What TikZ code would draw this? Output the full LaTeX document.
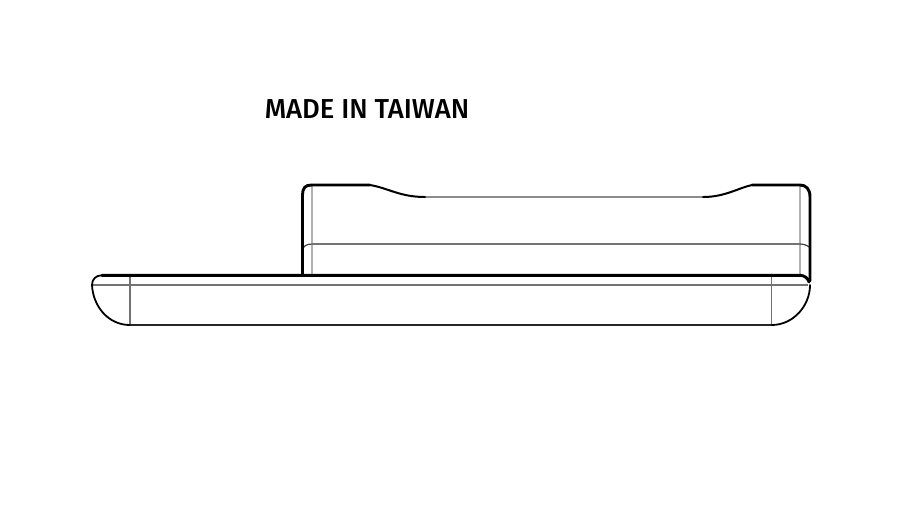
\documentclass[tikz,border=0pt]{standalone}
\usepackage{fontspec}
\setmainfont{Fira Sans Medium}
\tikzset{
  outline/.style={draw=black, line width=0.058cm, line cap=round, line join=round},
  edgeline/.style={draw=black!75, line width=0.024cm},
  hidden/.style={draw=black!55, line width=0.028cm},
  faint/.style={draw=black!30, line width=0.04cm},
}
\begin{document}
\begin{tikzpicture}[x=0.02cm, y=-0.02cm]
    \useasboundingbox (0, 0) rectangle (911, 512);
    \node[inner sep=0pt, font=\fontsize{15.6pt}{18pt}\selectfont] (label) at (367, 108.7) {MADE IN TAIWAN};

    % upper block
    \draw[faint] (311.7, 186) -- (311.7, 275);
    \draw[faint] (800, 186) -- (800, 275);
    \draw[hidden] (311.7, 244) -- (800, 244);
    \draw[edgeline] (302.5, 250) .. controls (303, 246) and (307, 244) .. (311.7, 244);
    \draw[edgeline] (800, 244) .. controls (803, 244) and (807, 245) .. (809, 247);
    \draw[faint, draw=black!45, line width=0.03cm] (420, 197) -- (703, 197);
    \draw[outline] (302.5, 275) -- (302.5, 195) .. controls (302.5, 188) and (305, 185) .. (311.7, 185)
      -- (370, 185);
    \draw[outline, line width=0.04cm] (370, 185) .. controls (388, 188) and (400, 197) .. (425, 197);
    \draw[outline, line width=0.04cm] (703, 197) .. controls (725, 197) and (738, 188) .. (752, 185);
    \draw[outline] (752, 185) -- (800, 185) .. controls (806, 185) and (810, 189) .. (810, 197) -- (810, 281);

    % base plate
    \draw[hidden] (92, 285) -- (808, 285);
    \draw[hidden] (130, 276) -- (130, 325);
    \draw[hidden] (771.7, 276) -- (771.7, 325);
    \draw[outline] (102, 275.3) -- (800, 275.3) .. controls (804, 275.3) and (808, 278) .. (809, 282);
    \draw[outline, line width=0.036cm] (102, 275.3) .. controls (96, 275.3) and (92, 279) .. (92, 285)
      .. controls (93, 306) and (108, 325) .. (130, 325);
    \draw[edgeline, draw=black!85, line width=0.03cm] (130, 325) -- (771.7, 325);
    \draw[outline, line width=0.036cm] (771.7, 325) .. controls (793, 325) and (810, 306) .. (810, 285);
\end{tikzpicture}
\end{document}
